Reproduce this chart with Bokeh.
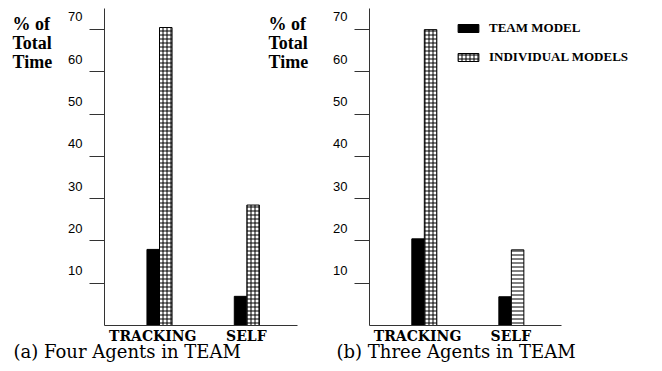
from bokeh.plotting import figure
from bokeh.layouts import row
from bokeh.models import (Range1d, LinearAxis, FixedTicker, Label, Legend,
                          LegendItem, ColumnDataSource, Title)
from bokeh.embed import file_html
from bokeh.resources import INLINE

# ---- data ----
categories = ["TRACKING", "SELF"]
team_four = [18.0, 6.9]
indiv_four = [70.5, 28.5]
team_three = [20.5, 6.8]
indiv_three = [70.0, 17.9]
y_ticks = [10, 20, 30, 40, 50, 60, 70]
captions = ["(a) Four Agents in TEAM", "(b) Three Agents in TEAM"]
y_label_lines = ["% of", "Total", "Time"]
legend_labels = ["TEAM MODEL", "INDIVIDUAL MODELS"]

# ---- layout constants ----
group_pos = [0.57, 1.475]     # centre of each bar pair (x data units)
label_pos = [0.50, 1.47]      # position of the category labels
BAR_W = 0.13
Y_MAX = 75
LABEL_SHIFT = 3.0             # tick labels sit above their ticks
H = 371
TOP = 8
FRAME_H = 317
PX_PER_UNIT = 96.5
SERIF = "DejaVu Serif"
BOLD_SERIF = "Liberation Serif"
AXIS_COL = "#333333"


def make_panel(team, indiv, indiv_hatch, width, b_left, caption, cap_offset):
    frame_w = width - b_left
    p = figure(width=width, height=H,
               x_range=Range1d(0, frame_w / PX_PER_UNIT), y_range=Range1d(0, Y_MAX),
               output_backend="svg", toolbar_location=None,
               min_border_left=b_left, min_border_right=0,
               min_border_top=TOP, min_border_bottom=H - TOP - FRAME_H)
    p.outline_line_color = None
    p.xgrid.visible = False
    p.ygrid.visible = False
    p.background_fill_color = "white"
    p.border_fill_color = "white"

    src = ColumnDataSource(dict(
        cat=categories,
        xt=[g - BAR_W / 2 for g in group_pos],
        xi=[g + BAR_W / 2 for g in group_pos],
        team=team, indiv=indiv, hatch=indiv_hatch))
    r_team = p.vbar(x="xt", top="team", bottom=0, width=BAR_W, source=src,
                    fill_color="black", line_color="black")
    r_ind = p.vbar(x="xi", top="indiv", bottom=0, width=BAR_W, source=src,
                   fill_color="white", line_color="black", line_width=1,
                   hatch_pattern="hatch", hatch_color="black", hatch_scale=4,
                   hatch_weight=1)

    # y axis: line + ticks only
    ya = p.yaxis[0]
    ya.ticker = FixedTicker(ticks=y_ticks)
    ya.major_label_overrides = {t: "" for t in y_ticks}
    ya.major_label_standoff = 0
    ya.major_tick_out = 15
    ya.major_tick_in = 0
    ya.minor_tick_line_color = None
    ya.axis_line_color = AXIS_COL
    ya.major_tick_line_color = AXIS_COL

    # tick labels, drawn a little above the ticks
    p.extra_y_ranges = {"lbl": Range1d(-LABEL_SHIFT, Y_MAX - LABEL_SHIFT)}
    la = LinearAxis(y_range_name="lbl", ticker=FixedTicker(ticks=y_ticks))
    la.axis_line_color = None
    la.major_tick_line_color = None
    la.minor_tick_line_color = None
    la.major_tick_out = 0
    la.major_tick_in = 0
    la.major_label_standoff = 7
    la.major_label_text_font = "Liberation Sans"
    la.major_label_text_font_size = "13px"
    la.major_label_text_color = "black"
    p.add_layout(la, "left")

    xa = p.xaxis[0]
    xa.bounds = (0, 2)
    xa.ticker = FixedTicker(ticks=label_pos)
    xa.major_label_overrides = {label_pos[i]: categories[i] for i in range(len(categories))}
    xa.major_tick_line_color = None
    xa.minor_tick_line_color = None
    xa.major_tick_out = 0
    xa.major_tick_in = 0
    xa.axis_line_color = AXIS_COL
    xa.major_label_standoff = 2
    xa.major_label_text_font = SERIF
    xa.major_label_text_font_style = "bold"
    xa.major_label_text_font_size = "14px"
    xa.major_label_text_color = "black"

    p.add_layout(Title(text=caption, align="left", offset=cap_offset, standoff=-16,
                       text_font=SERIF, text_font_size="18px", text_font_style="normal",
                       text_color="black"), "below")
    return p, r_team, r_ind


pa, _, _ = make_panel(team_four, indiv_four, ["+", "+"], 330, 104, captions[0], -91)
pb, rt, ri = make_panel(team_three, indiv_three, ["+", "-"], 332, 38, captions[1], -33)

ylabel_text = "\n".join(y_label_lines)
ylabel_style = dict(x_units="screen", y_units="screen", text=ylabel_text,
                    text_font=BOLD_SERIF, text_font_style="bold", text_font_size="18px",
                    text_baseline="top", text_line_height=0.95, text_color="black")
# panel (a) y label, left of the tick labels
pa.add_layout(Label(x=-13, y=FRAME_H - 5, **ylabel_style), "left")
# panel (b) y label sits in the frame of (a), right of its x axis
pa.add_layout(Label(x=268 - 104, y=FRAME_H - 5, **ylabel_style))

legend = Legend(items=[LegendItem(label=legend_labels[0], renderers=[rt]),
                       LegendItem(label=legend_labels[1], renderers=[ri])],
                location=(86, 260), orientation="vertical",
                glyph_width=26, glyph_height=10, label_height=10,
                label_standoff=8, spacing=13, padding=0, margin=0,
                border_line_color=None, background_fill_alpha=0,
                label_text_font=BOLD_SERIF, label_text_font_style="bold",
                label_text_font_size="13px", label_text_color="black")
pb.add_layout(legend)

layout = row(pa, pb)
open("out.html", "w").write(file_html(layout, INLINE))
